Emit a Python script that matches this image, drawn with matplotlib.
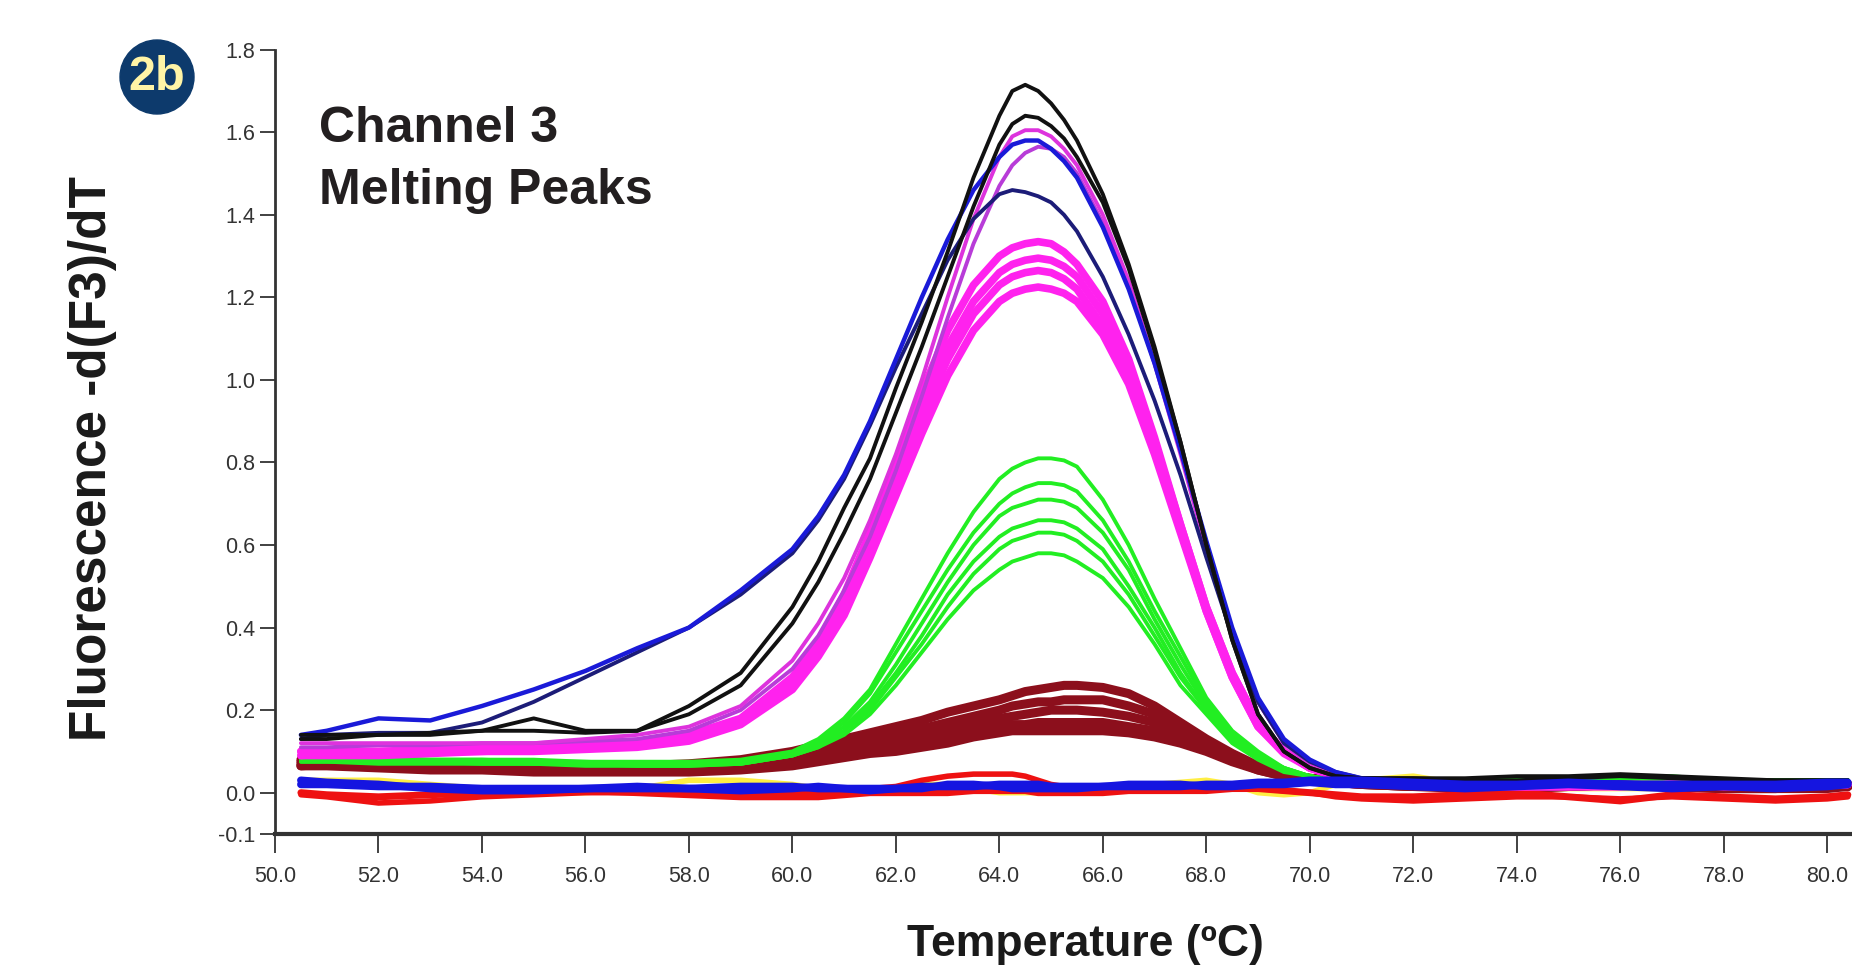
import matplotlib
matplotlib.use("Agg")
import matplotlib.pyplot as plt
from matplotlib.patches import Ellipse

plt.rcParams['font.family'] = ['Liberation Sans', 'DejaVu Sans']

# temperature grid (deg C) shared by all traces
temps = [50.5, 51, 52, 53, 54, 55, 56, 57, 58, 59,
         60, 60.5, 61, 61.5, 62, 62.5, 63, 63.5, 64,
         64.25, 64.5, 64.75, 65, 65.25, 65.5,
         66, 66.5, 67, 67.5, 68, 68.5, 69, 69.5,
         70, 70.5, 71, 72, 73, 74, 75, 76, 77, 78, 79, 80, 80.4]

# -d(F3)/dT
black1 = [0.13, 0.13, 0.14, 0.14, 0.15, 0.18, 0.15, 0.15, 0.21, 0.29,
          0.45, 0.56, 0.69, 0.81, 0.98, 1.14, 1.31, 1.49, 1.64,
          1.70, 1.715, 1.70, 1.67, 1.63, 1.58,
          1.45, 1.28, 1.08, 0.85, 0.60, 0.37, 0.19, 0.10,
          0.06, 0.04, 0.035, 0.035, 0.03, 0.03, 0.035, 0.04, 0.035, 0.03, 0.03, 0.03, 0.03]
black2 = [0.14, 0.14, 0.14, 0.145, 0.15, 0.15, 0.145, 0.15, 0.19, 0.26,
          0.41, 0.51, 0.63, 0.76, 0.92, 1.08, 1.25, 1.42, 1.57,
          1.62, 1.64, 1.635, 1.615, 1.585, 1.54,
          1.43, 1.27, 1.07, 0.85, 0.60, 0.37, 0.19, 0.10,
          0.06, 0.04, 0.035, 0.035, 0.035, 0.04, 0.04, 0.045, 0.04, 0.035, 0.03, 0.03, 0.03]
blue_hi = [0.14, 0.15, 0.18, 0.175, 0.21, 0.25, 0.295, 0.35, 0.40, 0.49,
           0.59, 0.67, 0.77, 0.90, 1.05, 1.20, 1.34, 1.46, 1.54,
           1.57, 1.58, 1.58, 1.56, 1.53, 1.49,
           1.37, 1.22, 1.04, 0.83, 0.61, 0.40, 0.23, 0.13,
           0.08, 0.05, 0.035, 0.03, 0.025, 0.025, 0.025, 0.025, 0.02, 0.02, 0.02, 0.025, 0.025]
navy = [0.13, 0.14, 0.145, 0.145, 0.17, 0.22, 0.28, 0.34, 0.40, 0.48,
        0.58, 0.66, 0.76, 0.89, 1.03, 1.16, 1.29, 1.39, 1.45,
        1.46, 1.455, 1.445, 1.43, 1.40, 1.36,
        1.25, 1.11, 0.95, 0.77, 0.57, 0.38, 0.22, 0.12,
        0.075, 0.05, 0.035, 0.03, 0.025, 0.025, 0.025, 0.025, 0.02, 0.02, 0.02, 0.025, 0.025]
magenta1 = [0.12, 0.12, 0.12, 0.12, 0.12, 0.12, 0.13, 0.14, 0.16, 0.21,
            0.32, 0.41, 0.52, 0.66, 0.82, 1.00, 1.20, 1.39, 1.54,
            1.59, 1.605, 1.605, 1.59, 1.56, 1.52,
            1.40, 1.24, 1.04, 0.82, 0.59, 0.38, 0.22, 0.12,
            0.07, 0.045, 0.03, 0.025, 0.02, 0.02, 0.02, 0.02, 0.02, 0.02, 0.02, 0.02, 0.02]
magenta2 = [0.11, 0.11, 0.115, 0.115, 0.12, 0.12, 0.125, 0.13, 0.15, 0.20,
            0.30, 0.38, 0.49, 0.62, 0.78, 0.96, 1.15, 1.33, 1.47,
            1.52, 1.55, 1.565, 1.56, 1.54, 1.50,
            1.38, 1.23, 1.04, 0.83, 0.60, 0.39, 0.22, 0.12,
            0.07, 0.045, 0.03, 0.025, 0.02, 0.02, 0.02, 0.02, 0.02, 0.02, 0.02, 0.02, 0.02]
pink1 = [0.10, 0.10, 0.10, 0.105, 0.11, 0.11, 0.115, 0.12, 0.14, 0.18,
         0.28, 0.36, 0.48, 0.63, 0.80, 0.97, 1.12, 1.23, 1.30,
         1.32, 1.33, 1.335, 1.33, 1.31, 1.28,
         1.19, 1.05, 0.86, 0.65, 0.45, 0.29, 0.17, 0.10,
         0.06, 0.04, 0.03, 0.02, 0.02, 0.015, 0.015, 0.015, 0.02, 0.02, 0.02, 0.02, 0.02]
pink2 = [0.10, 0.10, 0.10, 0.10, 0.105, 0.11, 0.11, 0.115, 0.135, 0.175,
         0.27, 0.35, 0.46, 0.61, 0.77, 0.93, 1.08, 1.19, 1.26,
         1.28, 1.29, 1.295, 1.29, 1.275, 1.25,
         1.16, 1.03, 0.85, 0.65, 0.45, 0.29, 0.17, 0.10,
         0.06, 0.04, 0.03, 0.02, 0.02, 0.015, 0.015, 0.015, 0.02, 0.02, 0.02, 0.02, 0.02]
pink3 = [0.09, 0.095, 0.095, 0.10, 0.10, 0.105, 0.11, 0.115, 0.13, 0.17,
         0.26, 0.34, 0.45, 0.59, 0.75, 0.91, 1.05, 1.16, 1.23,
         1.25, 1.26, 1.265, 1.26, 1.245, 1.22,
         1.13, 1.01, 0.84, 0.64, 0.44, 0.28, 0.16, 0.10,
         0.06, 0.04, 0.03, 0.02, 0.015, 0.015, 0.015, 0.02, 0.02, 0.015, 0.015, 0.02, 0.02]
pink4 = [0.09, 0.09, 0.09, 0.095, 0.10, 0.10, 0.105, 0.11, 0.125, 0.165,
         0.25, 0.33, 0.43, 0.57, 0.72, 0.87, 1.01, 1.12, 1.19,
         1.21, 1.22, 1.225, 1.22, 1.21, 1.19,
         1.11, 0.99, 0.82, 0.63, 0.44, 0.28, 0.16, 0.095,
         0.06, 0.04, 0.03, 0.02, 0.015, 0.015, 0.015, 0.015, 0.02, 0.015, 0.015, 0.02, 0.02]
green1 = [0.09, 0.09, 0.085, 0.08, 0.08, 0.08, 0.075, 0.075, 0.075, 0.08,
          0.10, 0.13, 0.18, 0.25, 0.36, 0.47, 0.58, 0.68, 0.76,
          0.785, 0.80, 0.81, 0.81, 0.805, 0.79,
          0.71, 0.60, 0.47, 0.35, 0.23, 0.15, 0.10, 0.06,
          0.04, 0.03, 0.03, 0.03, 0.03, 0.03, 0.035, 0.04, 0.04, 0.03, 0.03, 0.03, 0.03]
green2 = [0.085, 0.085, 0.08, 0.08, 0.08, 0.075, 0.075, 0.07, 0.07, 0.075,
          0.098, 0.125, 0.17, 0.24, 0.34, 0.44, 0.54, 0.63, 0.70,
          0.725, 0.74, 0.75, 0.75, 0.745, 0.73,
          0.66, 0.56, 0.44, 0.33, 0.22, 0.14, 0.09, 0.06,
          0.04, 0.03, 0.03, 0.03, 0.03, 0.03, 0.035, 0.04, 0.035, 0.03, 0.03, 0.03, 0.03]
green3 = [0.08, 0.08, 0.08, 0.075, 0.075, 0.075, 0.07, 0.07, 0.07, 0.075,
          0.095, 0.12, 0.16, 0.22, 0.31, 0.41, 0.51, 0.60, 0.67,
          0.69, 0.70, 0.71, 0.71, 0.705, 0.69,
          0.63, 0.54, 0.42, 0.31, 0.21, 0.14, 0.09, 0.06,
          0.04, 0.03, 0.03, 0.03, 0.03, 0.03, 0.03, 0.04, 0.035, 0.03, 0.03, 0.03, 0.03]
green4 = [0.08, 0.08, 0.075, 0.075, 0.075, 0.07, 0.07, 0.07, 0.07, 0.07,
          0.09, 0.115, 0.15, 0.21, 0.29, 0.38, 0.48, 0.56, 0.62,
          0.64, 0.65, 0.66, 0.66, 0.655, 0.64,
          0.59, 0.50, 0.40, 0.29, 0.20, 0.13, 0.085, 0.055,
          0.04, 0.03, 0.03, 0.03, 0.03, 0.03, 0.03, 0.035, 0.03, 0.03, 0.03, 0.03, 0.03]
green5 = [0.075, 0.075, 0.075, 0.075, 0.07, 0.07, 0.07, 0.065, 0.065, 0.07,
          0.09, 0.11, 0.15, 0.20, 0.28, 0.36, 0.45, 0.53, 0.59,
          0.61, 0.62, 0.63, 0.63, 0.625, 0.61,
          0.56, 0.48, 0.38, 0.28, 0.20, 0.13, 0.085, 0.055,
          0.04, 0.03, 0.03, 0.03, 0.03, 0.03, 0.03, 0.035, 0.03, 0.03, 0.03, 0.03, 0.03]
green6 = [0.075, 0.075, 0.07, 0.07, 0.07, 0.07, 0.065, 0.065, 0.065, 0.07,
          0.09, 0.11, 0.14, 0.19, 0.26, 0.34, 0.42, 0.49, 0.54,
          0.56, 0.57, 0.58, 0.58, 0.575, 0.56,
          0.52, 0.45, 0.36, 0.26, 0.19, 0.12, 0.08, 0.05,
          0.04, 0.03, 0.03, 0.03, 0.03, 0.03, 0.03, 0.035, 0.03, 0.03, 0.03, 0.03, 0.03]
maroon1 = [0.075, 0.08, 0.075, 0.07, 0.065, 0.065, 0.065, 0.065, 0.07, 0.08,
           0.10, 0.115, 0.13, 0.145, 0.16, 0.175, 0.195, 0.21, 0.225,
           0.235, 0.245, 0.25, 0.255, 0.26, 0.26,
           0.255, 0.24, 0.21, 0.17, 0.13, 0.095, 0.065, 0.045,
           0.035, 0.03, 0.025, 0.02, 0.02, 0.02, 0.02, 0.03, 0.02, 0.015, 0.015, 0.02, 0.02]
maroon2 = [0.08, 0.08, 0.075, 0.07, 0.065, 0.065, 0.06, 0.06, 0.065, 0.075,
           0.09, 0.10, 0.11, 0.125, 0.14, 0.155, 0.17, 0.185, 0.20,
           0.21, 0.215, 0.22, 0.22, 0.225, 0.225,
           0.225, 0.21, 0.19, 0.16, 0.125, 0.09, 0.065, 0.045,
           0.035, 0.03, 0.025, 0.02, 0.015, 0.015, 0.02, 0.025, 0.02, 0.015, 0.015, 0.015, 0.02]
maroon3 = [0.065, 0.07, 0.07, 0.065, 0.06, 0.06, 0.055, 0.055, 0.06, 0.065,
           0.08, 0.09, 0.10, 0.11, 0.125, 0.14, 0.15, 0.165, 0.18,
           0.185, 0.19, 0.195, 0.20, 0.20, 0.20,
           0.195, 0.185, 0.17, 0.145, 0.115, 0.085, 0.06, 0.04,
           0.03, 0.025, 0.02, 0.015, 0.015, 0.015, 0.015, 0.02, 0.015, 0.01, 0.01, 0.015, 0.015]
maroon4 = [0.07, 0.07, 0.065, 0.06, 0.06, 0.055, 0.055, 0.055, 0.055, 0.06,
           0.07, 0.08, 0.09, 0.10, 0.11, 0.12, 0.135, 0.15, 0.16,
           0.165, 0.165, 0.17, 0.17, 0.17, 0.17,
           0.17, 0.16, 0.15, 0.13, 0.105, 0.08, 0.055, 0.04,
           0.03, 0.025, 0.02, 0.015, 0.015, 0.01, 0.015, 0.02, 0.015, 0.01, 0.01, 0.015, 0.015]
maroon5 = [0.065, 0.065, 0.06, 0.055, 0.055, 0.05, 0.05, 0.05, 0.05, 0.055,
           0.065, 0.075, 0.085, 0.095, 0.10, 0.11, 0.12, 0.135, 0.145,
           0.15, 0.15, 0.15, 0.15, 0.15, 0.15,
           0.15, 0.145, 0.135, 0.12, 0.10, 0.075, 0.055, 0.04,
           0.03, 0.025, 0.02, 0.015, 0.01, 0.01, 0.015, 0.02, 0.015, 0.01, 0.01, 0.01, 0.015]
red_hi = [-0.005, -0.01, -0.025, -0.02, -0.01, -0.005, 0.0, 0.0, 0.0, -0.005,
          0.0, 0.0, 0.005, 0.01, 0.015, 0.03, 0.04, 0.045, 0.045,
          0.045, 0.04, 0.03, 0.02, 0.015, 0.01,
          0.005, 0.005, 0.005, 0.01, 0.01, 0.01, 0.01, 0.005,
          0.0, -0.01, -0.015, -0.02, -0.015, -0.01, -0.01, -0.015, -0.01, -0.015, -0.02, -0.015, -0.01]
red_lo = [0.0, -0.005, -0.01, -0.005, 0.0, 0.0, 0.005, 0.0, -0.005, -0.01,
          -0.01, -0.01, -0.005, 0.0, 0.0, 0.0, 0.0, 0.005, 0.005,
          0.005, 0.005, 0.0, 0.0, 0.0, 0.0,
          0.0, 0.005, 0.005, 0.005, 0.005, 0.01, 0.01, 0.005,
          0.0, -0.005, -0.01, -0.01, -0.005, 0.0, -0.01, -0.02, -0.005, -0.01, -0.015, -0.01, -0.005]
yellow = [0.03, 0.03, 0.03, 0.02, 0.01, 0.0, 0.0, 0.01, 0.03, 0.03,
          0.02, 0.01, 0.0, 0.0, 0.01, 0.02, 0.02, 0.01, 0.0,
          0.0, 0.0, 0.0, 0.005, 0.01, 0.01,
          0.01, 0.015, 0.02, 0.025, 0.03, 0.02, 0.0, -0.005,
          0.0, 0.02, 0.03, 0.04, 0.02, 0.01, 0.01, 0.01, 0.01, 0.01, 0.01, 0.02, 0.02]
blue_base1 = [0.02, 0.02, 0.015, 0.015, 0.01, 0.01, 0.01, 0.01, 0.01, 0.015,
              0.015, 0.01, 0.01, 0.01, 0.01, 0.015, 0.015, 0.015, 0.02,
              0.02, 0.02, 0.02, 0.015, 0.015, 0.015,
              0.015, 0.015, 0.015, 0.015, 0.02, 0.02, 0.025, 0.025,
              0.03, 0.03, 0.03, 0.025, 0.02, 0.02, 0.025, 0.02, 0.02, 0.02, 0.02, 0.025, 0.025]
blue_base2 = [0.03, 0.025, 0.02, 0.01, 0.005, 0.005, 0.01, 0.015, 0.01, 0.005,
              0.01, 0.015, 0.01, 0.005, 0.01, 0.01, 0.02, 0.02, 0.015,
              0.01, 0.01, 0.01, 0.01, 0.01, 0.01,
              0.015, 0.02, 0.02, 0.02, 0.015, 0.015, 0.02, 0.02,
              0.025, 0.02, 0.02, 0.015, 0.01, 0.015, 0.02, 0.015, 0.01, 0.015, 0.01, 0.015, 0.02]

# drawing order and style
traces = [
    (yellow, '#ffee44', 4),
    (maroon5, '#8c0f1c', 6.5), (maroon4, '#8c0f1c', 6.5), (maroon3, '#8c0f1c', 6.5),
    (maroon2, '#8c0f1c', 6.5), (maroon1, '#8c0f1c', 6.5),
    (red_lo, '#ee1111', 5), (red_hi, '#ee1111', 4),
    (green6, '#22ee22', 2.8), (green5, '#22ee22', 2.8), (green4, '#22ee22', 2.8),
    (green3, '#22ee22', 2.8), (green2, '#22ee22', 2.8), (green1, '#22ee22', 2.8),
    (pink4, '#ff22ee', 5.5), (pink3, '#ff22ee', 5.5), (pink2, '#ff22ee', 5.5), (pink1, '#ff22ee', 5.5),
    (magenta2, '#b83cd8', 2.8), (magenta1, '#dd33dd', 2.8),
    (navy, '#1c1c78', 2.8), (blue_hi, '#1a1ad8', 3.2),
    (black2, '#111111', 2.8), (black1, '#111111', 2.8),
    (blue_base2, '#1515e0', 5.5), (blue_base1, '#1515e0', 5.5),
]

fig = plt.figure(figsize=(18.52, 9.73), dpi=100)
ax = fig.add_axes([0.1485, 0.1429, 0.8515, 0.806])

for vals, col, lw in traces:
    ax.plot(temps, vals, color=col, lw=lw, solid_joinstyle='round', solid_capstyle='round')

ax.set_xlim(50, 80.48)
ax.set_ylim(-0.1, 1.8)

xt = list(range(50, 81, 2))
ax.set_xticks(xt)
ax.set_xticklabels([f"{t:.1f}" for t in xt])
yt = [-0.1, 0.0, 0.2, 0.4, 0.6, 0.8, 1.0, 1.2, 1.4, 1.6, 1.8]
ax.set_yticks(yt)
ax.set_yticklabels([f"{v:.1f}" for v in yt])
ax.tick_params(labelsize=15.5, colors='#333333', width=1.3, direction='out')
ax.tick_params(axis='y', length=11, pad=3)
ax.tick_params(axis='x', length=14, pad=9)

for side in ['top', 'right']:
    ax.spines[side].set_visible(False)
ax.spines['left'].set_color('#333333')
ax.spines['left'].set_linewidth(2)
ax.spines['bottom'].set_color('#333333')
ax.spines['bottom'].set_linewidth(3)

fig.text(0.05, 0.529, "Fluorescence -d(F3)/dT", rotation=90, fontsize=37,
         fontweight='bold', color='#1a1a1a', ha='center', va='center')
fig.text(0.586, 0.029, "Temperature (ºC)", fontsize=32, fontweight='bold',
         color='#1a1a1a', ha='center', va='center')
fig.text(0.172, 0.78, "Channel 3\nMelting Peaks", fontsize=36, fontweight='bold',
         color='#231f20', ha='left', va='bottom', linespacing=1.45)

# "2b" badge
fig.add_artist(Ellipse((157 / 1852, 1 - 77 / 973), 74 / 1852, 74 / 973,
                       transform=fig.transFigure, color='#0d3a6c'))
fig.text(157 / 1852, 1 - 78 / 973, "2b", fontsize=35, fontweight='bold',
         color='#fff4a6', ha='center', va='center')

fig.savefig('out.png', dpi=100, facecolor='white')
